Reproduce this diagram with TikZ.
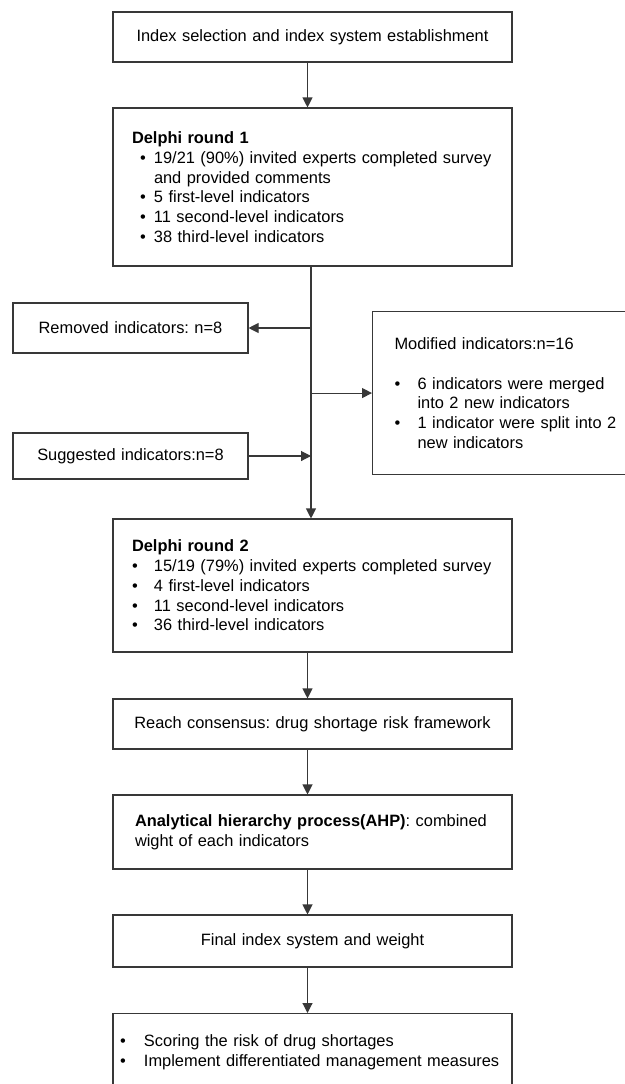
\documentclass[tikz,border=0pt]{standalone}
\usepackage{fontspec}
\setmainfont{Liberation Sans}
\usetikzlibrary{arrows.meta}
\newcommand{\myfs}{\fontsize{16.4}{19.7}\selectfont\frenchspacing}
\newcommand{\myb}[2]{\makebox[#2pt][l]{\hspace{#1pt}\textbullet}}
\begin{document}
\begin{tikzpicture}[x=1pt,y=-1pt,
  box/.style={draw=black!78, line width=1.1pt, font=\myfs, inner ysep=2pt},
  arr/.style={draw=black!78, line width=1.1pt, -{Triangle[length=10pt,width=10pt]}}]
\useasboundingbox (0,0) rectangle (624,1084);
\fill[white] (0,0) rectangle (624,1084);

\node[box, minimum width=399pt, minimum height=50pt, text width=361pt, inner xsep=19pt, align=center] (b1) at (312.5,37)
  {Index selection and index system establishment};

\node[box, minimum height=158pt, text width=361pt, inner xsep=19pt, align=left] (b2) at (312.5,187)
  {\textbf{Delphi round 1}\\
   \myb{8}{22}19/21 (90\%) invited experts completed survey\\
   \hspace*{22pt}and provided comments\\
   \myb{8}{22}5 first-level indicators\\
   \myb{8}{22}11 second-level indicators\\
   \myb{8}{22}38 third-level indicators};

\node[box, minimum height=50pt, text width=215pt, inner xsep=10pt, align=center] (rem) at (130.5,328)
  {Removed indicators: n=8};

\node[box, anchor=north west, minimum height=163pt, text width=250pt, inner xsep=22pt, align=left] (mod) at (372,311)
  {Modified indicators:n=16\\[19.7pt]
   \myb{0}{23}6 indicators were merged\\
   \hspace*{23pt}into 2 new indicators\\
   \myb{0}{23}1 indicator were split into 2\\
   \hspace*{23pt}new indicators};

\node[box, minimum height=46pt, text width=215pt, inner xsep=10pt, align=center] (sug) at (130.5,456)
  {Suggested indicators:n=8};

\node[box, minimum height=133pt, text width=361pt, inner xsep=19pt, align=left] (d2) at (312.5,585.5)
  {\textbf{Delphi round 2}\\
   \myb{0}{22}15/19 (79\%) invited experts completed survey\\
   \myb{0}{22}4 first-level indicators\\
   \myb{0}{22}11 second-level indicators\\
   \myb{0}{22}36 third-level indicators};

\node[box, minimum height=50pt, text width=361pt, inner xsep=19pt, align=center] (reach) at (312.5,724)
  {Reach consensus: drug shortage risk framework};

\node[box, minimum height=74pt, text width=355pt, inner xsep=22pt, align=left] (ahp) at (312.5,832)
  {\textbf{Analytical hierarchy process(AHP)}: combined\\
   wight of each indicators};

\node[box, minimum height=52pt, text width=361pt, inner xsep=19pt, align=center] (fin) at (312.5,941)
  {Final index system and weight};

\node[box, anchor=north, minimum height=78pt, text width=385pt, inner xsep=7pt, align=left] (last) at (312.5,1013)
  {\myb{0}{24}Scoring the risk of drug shortages\\
   \myb{0}{24}Implement differentiated management measures};

\coordinate (m) at (311,0);
\draw[arr] ([xshift=-5pt]b1.south) -- ([xshift=-5pt]b2.north);
\draw[arr] (b2.south -| m) -- (d2.north -| m);
\draw[arr] (rem.east -| m) -- (rem.east);
\draw[arr] (mod.west -| m) -- (mod.west);
\draw[arr] (sug.east) -- (sug.east -| m);
\draw[arr] ([xshift=-5pt]d2.south) -- ([xshift=-5pt]reach.north);
\draw[arr] ([xshift=-5pt]reach.south) -- ([xshift=-5pt]ahp.north);
\draw[arr] ([xshift=-5pt]ahp.south) -- ([xshift=-5pt]fin.north);
\draw[arr] ([xshift=-5pt]fin.south) -- ([xshift=-5pt]last.north);
\end{tikzpicture}
\end{document}
